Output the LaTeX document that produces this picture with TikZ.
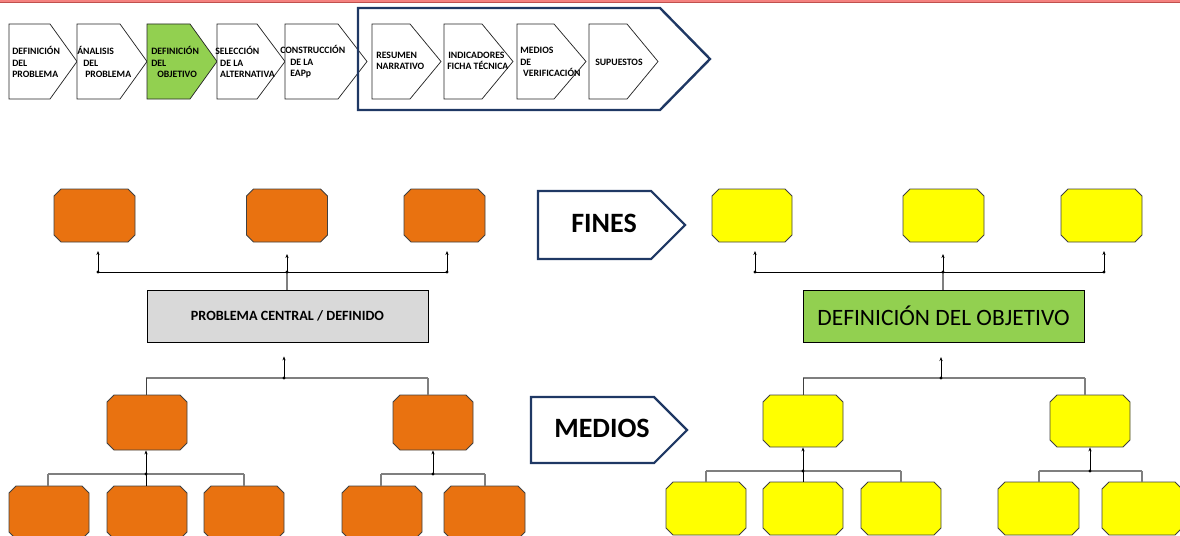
\documentclass[tikz,border=0pt]{standalone}
\usepackage{fontspec}
\setmainfont{Carlito}
\usetikzlibrary{arrows.meta,calc}
\definecolor{navy}{HTML}{1F3864}
\definecolor{oran}{HTML}{E97210}
\definecolor{yel}{HTML}{FFFF00}
\definecolor{grn}{HTML}{92D050}
\definecolor{gbox}{HTML}{D9D9D9}
\definecolor{redl}{HTML}{F4817F}
\definecolor{redd}{HTML}{C0504D}
\definecolor{lgray}{HTML}{7F7F7F}
\definecolor{bline}{HTML}{404040}
\newcommand\obox[6]{%
  \node[inner sep=0pt,outer sep=0pt,minimum width=#4*0.75pt,minimum height=#5*0.75pt] (#1) at (#2,#3) {};
  \draw[boxline,fill=#6] ($(#1.north west)+(7,0)$) -- ($(#1.north east)+(-7,0)$) -- ($(#1.north east)+(0,7)$) -- ($(#1.south east)+(0,-7)$) -- ($(#1.south east)+(-7,0)$) -- ($(#1.south west)+(7,0)$) -- ($(#1.south west)+(0,-7)$) -- ($(#1.north west)+(0,7)$) -- cycle;
}
\newcommand\chev[4]{% left, corner, point, fill
  \draw[chevline,fill=#4] (#1,24) -- (#2,24) -- (#3,61.5) -- (#2,99) -- (#1,99) -- cycle;
}
\tikzset{
  chevline/.style={draw=black!85,line width=0.55pt,line join=miter},
  boxline/.style={draw=bline,line width=0.6pt},
  navyline/.style={draw=navy,line width=1.8pt,line join=miter},
  chtext/.style={anchor=west,inner sep=0pt,align=left,font=\bfseries\fontsize{7.3}{8.7}\selectfont},
  blk/.style={draw=black,line width=0.7pt},
  gry/.style={draw=lgray,line width=0.8pt},
  arr/.style={draw=black,line width=0.75pt,-{Stealth[length=3pt,width=2.4pt]}},
  jdot/.style={fill=black},
  lab/.style={inner sep=0pt,font=\bfseries\fontsize{21}{24}\selectfont}
}
\begin{document}
\begin{tikzpicture}[x=0.75pt,y=-0.75pt]
\useasboundingbox (0,0) rectangle (1180,535);
% top red band
\fill[redl] (0,0) rectangle (1180,2.6);
\draw[redd,line width=0.6pt] (0,2.8) -- (1180,2.8);

% process chevrons
\chev{9}{50}{77}{white}
\chev{77}{120}{147}{white}
\chev{147}{190}{217}{grn}
\chev{217}{257}{285}{white}
\chev{285}{338}{367}{white}
\chev{372}{410}{441}{white}
\chev{444}{482}{513}{white}
\chev{517}{554}{586}{white}
\chev{589}{627}{658}{white}
\draw[navyline] (358,8) -- (660,8) -- (710,59) -- (660,110) -- (358,110) -- cycle;

\node[chtext] (t1) at (12,62) {DEFINICIÓN\\DEL\\PROBLEMA};
\node[chtext] (t2) at (77,62) {ÁNALISIS\\\hspace{4.5pt}DEL\\\hspace{6pt}PROBLEMA};
\node[chtext] (t3) at (151,62) {DEFINICIÓN\\DEL\\\hspace{4.5pt}OBJETIVO};
\node[chtext] (t4) at (215,62) {SELECCIÓN\\\hspace{3.7pt}DE LA\\\hspace{3.7pt}ALTERNATIVA};
\node[chtext] (t5) at (280,62) {CONSTRUCCIÓN\\\hspace{7.5pt}DE LA\\\hspace{7.5pt}EAPp};
\node[chtext] (t6) at (376,61) {RESUMEN\\NARRATIVO};
\node[chtext] (t7) at (447,61) {\hspace{0.75pt}INDICADORES\\FICHA TÉCNICA};
\node[chtext] (t8) at (520,62) {MEDIOS\\DE\\\hspace{2.2pt}VERIFICACIÓN};
\node[chtext] (t9) at (595,62) {SUPUESTOS};

% FINES / MEDIOS labels
\draw[navyline,line width=1.6pt] (538,191) -- (651,191) -- (685,225) -- (651,259) -- (538,259) -- cycle;
\node[lab] (fines) at (604,223) {FINES};
\draw[navyline,line width=1.6pt] (531,397) -- (654,397) -- (687,430) -- (654,463) -- (531,463) -- cycle;
\node[lab] (medios) at (602,428) {MEDIOS};

% ===== left tree (problems) =====
\obox{O1}{94.5}{215.5}{81}{53}{oran}
\obox{O2}{287}{215.5}{81}{53}{oran}
\obox{O3}{444.5}{215.5}{81}{53}{oran}
\node[draw=black,line width=0.6pt,fill=gbox,minimum width=281*0.75pt,minimum height=52*0.75pt,inner sep=0pt,font=\bfseries\fontsize{10.6}{12}\selectfont] (PC) at (287.5,316) {PROBLEMA CENTRAL / DEFINIDO};
\obox{OM1}{147}{422.5}{80}{55}{oran}
\obox{OM2}{433}{422.5}{80}{55}{oran}
\obox{B1}{49}{512.5}{80}{53}{oran}
\obox{B2}{147}{512.5}{80}{53}{oran}
\obox{B3}{244}{512.5}{80}{53}{oran}
\obox{B4}{382}{512.5}{80}{53}{oran}
\obox{B5}{484.5}{512.5}{81}{53}{oran}

\coordinate (ob1) at (98,272);
\coordinate (ob2) at (287,272);
\coordinate (ob3) at (447,272);
\draw[gry] (ob2) -- (ob2 |- PC.north);
\draw[blk] (ob1) -- (ob3);
\draw[arr,shorten >=6.75pt] (ob1) -- (ob1 |- O1.south);
\draw[arr,shorten >=9pt] (ob2) -- (ob2 |- O2.south);
\draw[arr,shorten >=6.75pt] (ob3) -- (ob3 |- O3.south);
\foreach \c in {ob1,ob2,ob3} \fill[jdot] (\c) circle[radius=1.2pt];

\coordinate (pb) at (284,378);
\coordinate (pl) at (146,378);
\coordinate (pr) at (428,378);
\draw[gry] (pl) -- (pr);
\draw[bline,line width=0.7pt] (pl) -- (pl |- OM1.north);
\draw[gry] (pr) -- (pr |- OM2.north);
\draw[arr,shorten >=10.5pt] (pb) -- (pb |- PC.south);
\fill[jdot] (pb) circle[radius=1.2pt];

\coordinate (la) at (48,474);
\coordinate (lb) at (146,474);
\coordinate (lc) at (244,474);
\draw[gry] (la) -- (lc);
\draw[gry] (la) -- (la |- B1.north);
\draw[gry] (lc) -- (lc |- B3.north);
\draw[blk] (lb) -- (lb |- B2.north);
\draw[arr,shorten >=0.3pt] (lb) -- (lb |- OM1.south);
\fill[jdot] (lb) circle[radius=1.2pt];

\coordinate (ld) at (381,474);
\coordinate (lm) at (433,474);
\coordinate (le) at (485,474);
\draw[gry] (ld) -- (le);
\draw[gry] (ld) -- (ld |- B4.north);
\draw[gry] (le) -- (le |- B5.north);
\draw[arr,shorten >=0.3pt] (lm) -- (lm |- OM2.south);
\fill[jdot] (lm) circle[radius=1.2pt];

% ===== right tree (objectives) =====
\obox{Y1}{752}{215.5}{80}{53}{yel}
\obox{Y2}{943.5}{215.5}{81}{53}{yel}
\obox{Y3}{1101.5}{215.5}{81}{53}{yel}
\node[draw=black,line width=0.6pt,fill=grn,minimum width=281*0.75pt,minimum height=52*0.75pt,inner sep=0pt,font=\fontsize{17.6}{20}\selectfont] (DO) at (943.5,316) {DEFINICIÓN DEL OBJETIVO};
\obox{YM1}{803}{421}{80}{52}{yel}
\obox{YM2}{1090}{421}{80}{52}{yel}
\obox{C1}{706}{508.5}{80}{53}{yel}
\obox{C2}{803}{508.5}{80}{53}{yel}
\obox{C3}{901}{508.5}{80}{53}{yel}
\obox{C4}{1038.5}{508.5}{81}{53}{yel}
\obox{C5}{1142}{508.5}{80}{53}{yel}

\coordinate (yb1) at (755,272);
\coordinate (yb2) at (943,272);
\coordinate (yb3) at (1104,272);
\draw[gry] (yb2) -- (yb2 |- DO.north);
\draw[blk] (yb1) -- (yb3);
\draw[arr,shorten >=6.75pt] (yb1) -- (yb1 |- Y1.south);
\draw[arr,shorten >=9pt] (yb2) -- (yb2 |- Y2.south);
\draw[arr,shorten >=6.75pt] (yb3) -- (yb3 |- Y3.south);
\foreach \c in {yb1,yb2,yb3} \fill[jdot] (\c) circle[radius=1.2pt];

\coordinate (qb) at (941,378);
\coordinate (ql) at (803,378);
\coordinate (qr) at (1085,378);
\draw[gry] (ql) -- (qr);
\draw[bline,line width=0.7pt] (ql) -- (ql |- YM1.north);
\draw[gry] (qr) -- (qr |- YM2.north);
\draw[arr,shorten >=11pt] (qb) -- (qb |- DO.south);
\fill[jdot] (qb) circle[radius=1.2pt];

\coordinate (ma) at (706,471);
\coordinate (mb) at (803,471);
\coordinate (mc) at (901,471);
\draw[gry] (ma) -- (mc);
\draw[gry] (ma) -- (ma |- C1.north);
\draw[gry] (mc) -- (mc |- C3.north);
\draw[blk] (mb) -- (mb |- C2.north);
\draw[arr,shorten >=0.3pt] (mb) -- (mb |- YM1.south);
\fill[jdot] (mb) circle[radius=1.2pt];

\coordinate (md) at (1039,471);
\coordinate (mm) at (1090,471);
\coordinate (me) at (1142,471);
\draw[gry] (md) -- (me);
\draw[gry] (md) -- (md |- C4.north);
\draw[gry] (me) -- (me |- C5.north);
\draw[arr,shorten >=0.3pt] (mm) -- (mm |- YM2.south);
\fill[jdot] (mm) circle[radius=1.2pt];
\end{tikzpicture}
\end{document}
